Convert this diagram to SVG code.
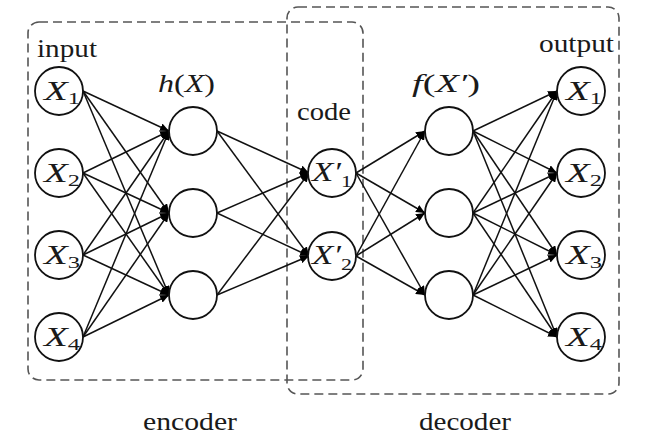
<svg xmlns="http://www.w3.org/2000/svg" width="656" height="444" viewBox="0 0 656 444">
<defs>
<marker id="ah" markerUnits="userSpaceOnUse" markerWidth="9" markerHeight="8" refX="9" refY="4" orient="auto">
<path d="M0,0 L9,4 L0,8 z" fill="#000"/>
</marker>
</defs>
<rect fill="#fff" width="656" height="444"/>
<g id="boxes" fill="none" stroke="#555" stroke-width="1.6" stroke-dasharray="9 5">
<rect x="28" y="22" width="335" height="358" rx="11"/>
<rect x="287" y="7" width="332" height="387" rx="11"/>
</g>
<g id="connectors" stroke="#111" stroke-width="1.5" fill="none" marker-end="url(#ah)">
<line x1="83" y1="91" x2="169" y2="131"/>
<line x1="83" y1="91" x2="169" y2="213"/>
<line x1="83" y1="91" x2="169" y2="295"/>
<line x1="83" y1="173" x2="169" y2="131"/>
<line x1="83" y1="173" x2="169" y2="213"/>
<line x1="83" y1="173" x2="169" y2="295"/>
<line x1="83" y1="255" x2="169" y2="131"/>
<line x1="83" y1="255" x2="169" y2="213"/>
<line x1="83" y1="255" x2="169" y2="295"/>
<line x1="83" y1="337" x2="169" y2="131"/>
<line x1="83" y1="337" x2="169" y2="213"/>
<line x1="83" y1="337" x2="169" y2="295"/>
<line x1="217" y1="131" x2="309" y2="173"/>
<line x1="217" y1="131" x2="309" y2="256"/>
<line x1="217" y1="213" x2="309" y2="173"/>
<line x1="217" y1="213" x2="309" y2="256"/>
<line x1="217" y1="295" x2="309" y2="173"/>
<line x1="217" y1="295" x2="309" y2="256"/>
<line x1="356" y1="173" x2="425" y2="131"/>
<line x1="356" y1="173" x2="425" y2="213"/>
<line x1="356" y1="173" x2="425" y2="295"/>
<line x1="356" y1="256" x2="425" y2="131"/>
<line x1="356" y1="256" x2="425" y2="213"/>
<line x1="356" y1="256" x2="425" y2="295"/>
<line x1="473" y1="131" x2="557" y2="91"/>
<line x1="473" y1="131" x2="557" y2="173"/>
<line x1="473" y1="131" x2="557" y2="255"/>
<line x1="473" y1="131" x2="557" y2="337"/>
<line x1="473" y1="213" x2="557" y2="91"/>
<line x1="473" y1="213" x2="557" y2="173"/>
<line x1="473" y1="213" x2="557" y2="255"/>
<line x1="473" y1="213" x2="557" y2="337"/>
<line x1="473" y1="295" x2="557" y2="91"/>
<line x1="473" y1="295" x2="557" y2="173"/>
<line x1="473" y1="295" x2="557" y2="255"/>
<line x1="473" y1="295" x2="557" y2="337"/>
</g>
<g fill="#fff" stroke="#111" stroke-width="1.8">
<g id="in1"><circle cx="59" cy="91" r="24"/></g>
<g id="in2"><circle cx="59" cy="173" r="24"/></g>
<g id="in3"><circle cx="59" cy="255" r="24"/></g>
<g id="in4"><circle cx="59" cy="337" r="24"/></g>
<g id="h1"><circle cx="193" cy="131" r="24"/></g>
<g id="h2"><circle cx="193" cy="213" r="24"/></g>
<g id="h3"><circle cx="193" cy="295" r="24"/></g>
<g id="c1"><circle cx="332" cy="173" r="24"/></g>
<g id="c2"><circle cx="332" cy="256" r="24"/></g>
<g id="f1"><circle cx="449" cy="131" r="24"/></g>
<g id="f2"><circle cx="449" cy="213" r="24"/></g>
<g id="f3"><circle cx="449" cy="295" r="24"/></g>
<g id="out1"><circle cx="581" cy="91" r="24"/></g>
<g id="out2"><circle cx="581" cy="173" r="24"/></g>
<g id="out3"><circle cx="581" cy="255" r="24"/></g>
<g id="out4"><circle cx="581" cy="337" r="24"/></g>
</g>
<g id="node-labels" font-family="Liberation Serif" font-style="italic" font-size="27" fill="#1a1a1a">
<text x="44" y="100" textLength="36" lengthAdjust="spacingAndGlyphs">X<tspan font-style="normal" font-size="17" dy="4">1</tspan></text>
<text x="44" y="182" textLength="36" lengthAdjust="spacingAndGlyphs">X<tspan font-style="normal" font-size="17" dy="4">2</tspan></text>
<text x="44" y="264" textLength="36" lengthAdjust="spacingAndGlyphs">X<tspan font-style="normal" font-size="17" dy="4">3</tspan></text>
<text x="44" y="346" textLength="36" lengthAdjust="spacingAndGlyphs">X<tspan font-style="normal" font-size="17" dy="4">4</tspan></text>
<text x="312" y="181" textLength="40" lengthAdjust="spacingAndGlyphs">X&#8242;<tspan font-style="normal" font-size="17" dy="6">1</tspan></text>
<text x="312" y="264" textLength="40" lengthAdjust="spacingAndGlyphs">X&#8242;<tspan font-style="normal" font-size="17" dy="6">2</tspan></text>
<text x="566" y="100" textLength="36" lengthAdjust="spacingAndGlyphs">X<tspan font-style="normal" font-size="17" dy="4">1</tspan></text>
<text x="566" y="182" textLength="36" lengthAdjust="spacingAndGlyphs">X<tspan font-style="normal" font-size="17" dy="4">2</tspan></text>
<text x="566" y="264" textLength="36" lengthAdjust="spacingAndGlyphs">X<tspan font-style="normal" font-size="17" dy="4">3</tspan></text>
<text x="566" y="346" textLength="36" lengthAdjust="spacingAndGlyphs">X<tspan font-style="normal" font-size="17" dy="4">4</tspan></text>
</g>
<g id="labels" font-family="Liberation Serif" font-size="25" fill="#1a1a1a">
<text x="37" y="57" textLength="60" lengthAdjust="spacingAndGlyphs">input</text>
<text x="539" y="52" textLength="75" lengthAdjust="spacingAndGlyphs">output</text>
<text x="297" y="120" textLength="54" lengthAdjust="spacingAndGlyphs">code</text>
<text font-style="italic" x="158" y="92" textLength="57" lengthAdjust="spacingAndGlyphs">h<tspan font-style="normal">(</tspan>X<tspan font-style="normal">)</tspan></text>
<text font-style="italic" x="412" y="92" textLength="68" lengthAdjust="spacingAndGlyphs">f<tspan font-style="normal">(</tspan>X&#8242;<tspan font-style="normal">)</tspan></text>
<text x="143" y="430" textLength="94" lengthAdjust="spacingAndGlyphs">encoder</text>
<text x="419" y="430" textLength="92" lengthAdjust="spacingAndGlyphs">decoder</text>
</g>
</svg>
